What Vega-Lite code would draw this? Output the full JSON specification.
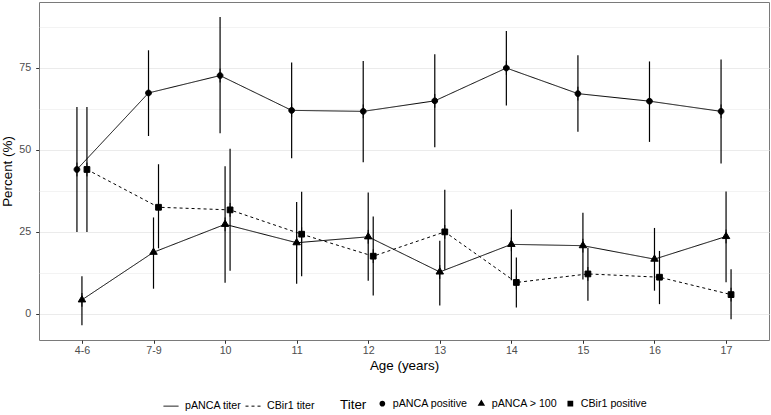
{
  "$schema": "https://vega.github.io/schema/vega-lite/v6.json",
  "width": 730,
  "height": 338,
  "autosize": {"type": "none"},
  "padding": {"left": 39, "top": 2, "right": 2, "bottom": 75},
  "data": {
    "values": [
      {"age": "4-6", "series": "pANCA positive", "linetype": "pANCA titer", "value": 44.0, "lo": 25.0, "hi": 63.0},
      {"age": "7-9", "series": "pANCA positive", "linetype": "pANCA titer", "value": 67.3, "lo": 54.2, "hi": 80.3},
      {"age": "10", "series": "pANCA positive", "linetype": "pANCA titer", "value": 72.6, "lo": 55.0, "hi": 90.4},
      {"age": "11", "series": "pANCA positive", "linetype": "pANCA titer", "value": 62.0, "lo": 47.4, "hi": 76.6},
      {"age": "12", "series": "pANCA positive", "linetype": "pANCA titer", "value": 61.7, "lo": 46.2, "hi": 77.0},
      {"age": "13", "series": "pANCA positive", "linetype": "pANCA titer", "value": 64.9, "lo": 50.8, "hi": 79.1},
      {"age": "14", "series": "pANCA positive", "linetype": "pANCA titer", "value": 74.9, "lo": 63.5, "hi": 86.2},
      {"age": "15", "series": "pANCA positive", "linetype": "pANCA titer", "value": 67.1, "lo": 55.5, "hi": 78.8},
      {"age": "16", "series": "pANCA positive", "linetype": "pANCA titer", "value": 64.8, "lo": 52.4, "hi": 76.9},
      {"age": "17", "series": "pANCA positive", "linetype": "pANCA titer", "value": 61.7, "lo": 45.8, "hi": 77.5},
      {"age": "4-6", "series": "pANCA > 100", "linetype": "pANCA titer", "value": 4.3, "lo": -3.4, "hi": 11.5},
      {"age": "7-9", "series": "pANCA > 100", "linetype": "pANCA titer", "value": 18.8, "lo": 7.7, "hi": 29.4},
      {"age": "10", "series": "pANCA > 100", "linetype": "pANCA titer", "value": 27.3, "lo": 9.5, "hi": 45.0},
      {"age": "11", "series": "pANCA > 100", "linetype": "pANCA titer", "value": 21.7, "lo": 9.2, "hi": 34.1},
      {"age": "12", "series": "pANCA > 100", "linetype": "pANCA titer", "value": 23.5, "lo": 10.1, "hi": 37.0},
      {"age": "13", "series": "pANCA > 100", "linetype": "pANCA titer", "value": 12.8, "lo": 2.6, "hi": 22.3},
      {"age": "14", "series": "pANCA > 100", "linetype": "pANCA titer", "value": 21.2, "lo": 10.3, "hi": 31.8},
      {"age": "15", "series": "pANCA > 100", "linetype": "pANCA titer", "value": 20.8, "lo": 10.5, "hi": 30.8},
      {"age": "16", "series": "pANCA > 100", "linetype": "pANCA titer", "value": 16.7, "lo": 7.1, "hi": 26.2},
      {"age": "17", "series": "pANCA > 100", "linetype": "pANCA titer", "value": 23.6, "lo": 9.7, "hi": 37.3},
      {"age": "4-6", "series": "CBir1 positive", "linetype": "CBir1 titer", "value": 44.0, "lo": 25.0, "hi": 63.0},
      {"age": "7-9", "series": "CBir1 positive", "linetype": "CBir1 titer", "value": 32.5, "lo": 20.0, "hi": 45.6},
      {"age": "10", "series": "CBir1 positive", "linetype": "CBir1 titer", "value": 31.7, "lo": 13.2, "hi": 50.3},
      {"age": "11", "series": "CBir1 positive", "linetype": "CBir1 titer", "value": 24.3, "lo": 11.5, "hi": 37.2},
      {"age": "12", "series": "CBir1 positive", "linetype": "CBir1 titer", "value": 17.6, "lo": 5.6, "hi": 29.7},
      {"age": "13", "series": "CBir1 positive", "linetype": "CBir1 titer", "value": 25.0, "lo": 13.5, "hi": 37.8},
      {"age": "14", "series": "CBir1 positive", "linetype": "CBir1 titer", "value": 9.6, "lo": 2.0, "hi": 17.2},
      {"age": "15", "series": "CBir1 positive", "linetype": "CBir1 titer", "value": 12.2, "lo": 4.0, "hi": 20.2},
      {"age": "16", "series": "CBir1 positive", "linetype": "CBir1 titer", "value": 11.2, "lo": 3.0, "hi": 19.2},
      {"age": "17", "series": "CBir1 positive", "linetype": "CBir1 titer", "value": 5.9, "lo": -1.6, "hi": 13.6}
    ]
  },
  "encoding": {
    "x": {
      "field": "age",
      "type": "ordinal",
      "sort": ["4-6", "7-9", "10", "11", "12", "13", "14", "15", "16", "17"],
      "scale": {"type": "point", "padding": 0.6},
      "title": "Age (years)",
      "axis": {"labelAngle": 0, "labelPadding": 2.5, "titlePadding": 3}
    },
    "xOffset": {
      "field": "series",
      "type": "nominal",
      "scale": {"type": "point", "domain": ["pANCA positive", "pANCA > 100", "CBir1 positive"], "range": [-5, 5], "padding": 0}
    }
  },
  "layer": [
    {
      "mark": {"type": "rule", "color": "black", "strokeWidth": 1.2},
      "encoding": {
        "y": {
          "field": "lo",
          "type": "quantitative",
          "title": "Percent (%)",
          "scale": {"domain": [-7.92, 95.0], "nice": false, "zero": false},
          "axis": {
            "values": [0, 12.5, 25, 37.5, 50, 62.5, 75, 87.5],
            "labelExpr": "datum.value % 25 === 0 ? datum.label : ''",
            "labelOverlap": false,
            "labelPadding": 5,
            "titlePadding": 4,
            "tickOpacity": {"condition": {"test": "datum.value % 25 !== 0", "value": 0}, "value": 1},
            "gridWidth": {"condition": {"test": "datum.value % 25 !== 0", "value": 0.6}, "value": 1.1}
          }
        },
        "y2": {"field": "hi"}
      }
    },
    {
      "mark": {"type": "line", "color": "black", "strokeWidth": 1},
      "encoding": {
        "y": {"field": "value", "type": "quantitative", "title": "Percent (%)"},
        "detail": {"field": "series"},
        "strokeDash": {
          "field": "linetype",
          "type": "nominal",
          "scale": {"domain": ["pANCA titer", "CBir1 titer"], "range": [[1, 0], [3, 3]]},
          "legend": {
            "orient": "none",
            "legendX": 124,
            "legendY": 396,
            "direction": "horizontal",
            "title": null,
            "symbolType": "stroke",
            "symbolSize": 225,
            "symbolStrokeColor": "black",
            "symbolStrokeWidth": 1,
            "labelOffset": 6,
            "columnPadding": 1,
            "padding": 0
          }
        }
      }
    },
    {
      "mark": {"type": "point", "filled": true, "color": "black", "fill": "black", "stroke": "black", "strokeWidth": 1, "size": 33, "opacity": 1},
      "encoding": {
        "y": {"field": "value", "type": "quantitative", "title": "Percent (%)"},
        "shape": {
          "field": "series",
          "type": "nominal",
          "title": "Titer",
          "scale": {
            "domain": ["pANCA positive", "pANCA > 100", "CBir1 positive"],
            "range": [
              "M0,-2.4L0,2.4M-1,0A1,1 0 1,0 1,0A1,1 0 1,0 -1,0Z",
              "M0,-2.4L0,2.4M0,-1.45L1.3,0.72L-1.3,0.72Z",
              "M0,-2.4L0,2.4M-1,-1H1V1H-1Z"
            ]
          },
          "legend": {
            "orient": "none",
            "legendX": 301,
            "legendY": 396,
            "direction": "horizontal",
            "titleOrient": "left",
            "titleFontSize": 13.4,
            "titleFontWeight": "normal",
            "titleColor": "black",
            "titlePadding": 10,
            "symbolSize": 33,
            "symbolFillColor": "black",
            "symbolStrokeColor": "black",
            "symbolStrokeWidth": 1,
            "symbolOpacity": 1,
            "labelOffset": 5,
            "columnPadding": 7,
            "padding": 0,
            "encode": {
              "symbols": {
                "fill": {"value": "black"},
                "stroke": {"value": "black"},
                "strokeWidth": {"value": 1},
                "strokeOpacity": {"value": 1},
                "opacity": {"value": 1}
              }
            }
          }
        }
      }
    }
  ],
  "config": {
    "font": "Liberation Sans",
    "view": {"stroke": "#7a7a7a", "strokeWidth": 1},
    "axis": {
      "labelFont": "Liberation Sans",
      "labelFontSize": 10.7,
      "labelColor": "#4D4D4D",
      "tickColor": "#333333",
      "tickSize": 3.3,
      "tickWidth": 1,
      "domain": false,
      "gridColor": "#EBEBEB",
      "titleFont": "Liberation Sans",
      "titleFontSize": 13.4,
      "titleFontWeight": "normal",
      "titleColor": "black"
    },
    "legend": {
      "labelFont": "Liberation Sans",
      "labelFontSize": 10.7,
      "labelColor": "black",
      "titleFont": "Liberation Sans",
      "symbolStrokeWidth": 1,
      "symbolStrokeColor": "black"
    }
  }
}
